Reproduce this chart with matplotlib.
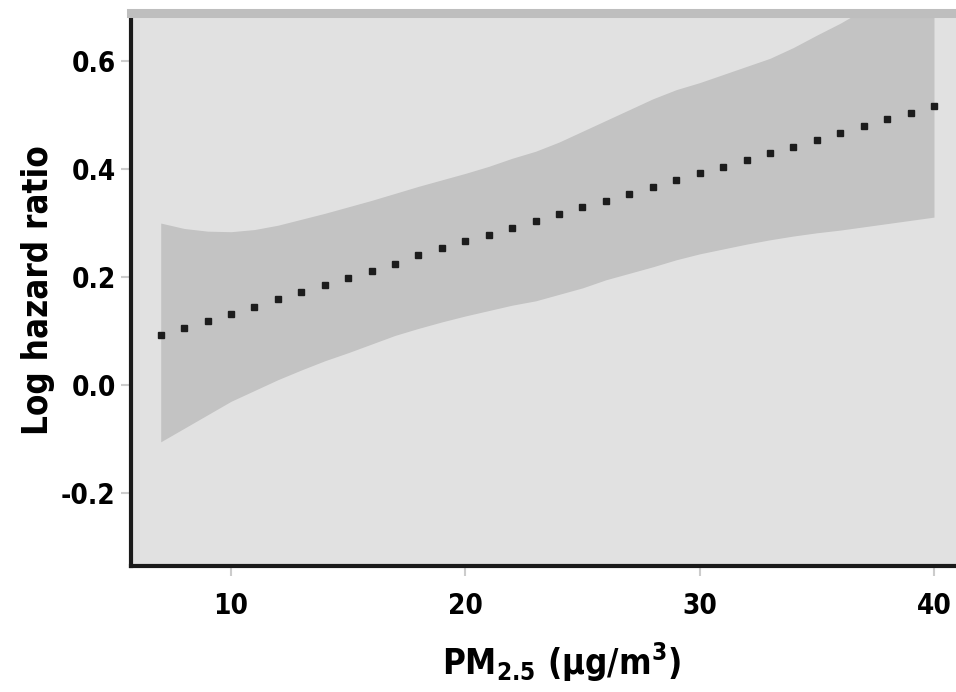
import matplotlib
matplotlib.use("Agg")
import matplotlib.pyplot as plt
from matplotlib import font_manager as fm

# ---- data ----
pm25 = list(range(7, 41))
log_hr = [0.093, 0.106, 0.119, 0.132, 0.145, 0.159, 0.172, 0.185, 0.198, 0.212,
          0.225, 0.240, 0.253, 0.266, 0.278, 0.291, 0.303, 0.316, 0.329, 0.341,
          0.354, 0.367, 0.379, 0.392, 0.404, 0.416, 0.429, 0.441, 0.454, 0.467,
          0.479, 0.492, 0.504, 0.516]
ci_lower = [-0.105, -0.080, -0.055, -0.030, -0.010, 0.010, 0.028, 0.045, 0.060, 0.076,
            0.092, 0.105, 0.117, 0.128, 0.138, 0.148, 0.156, 0.168, 0.180, 0.195,
            0.207, 0.219, 0.232, 0.243, 0.252, 0.261, 0.269, 0.276, 0.282, 0.287,
            0.293, 0.299, 0.305, 0.311]
ci_upper = [0.300, 0.290, 0.285, 0.284, 0.288, 0.296, 0.307, 0.318, 0.330, 0.342,
            0.355, 0.368, 0.380, 0.392, 0.405, 0.420, 0.433, 0.450, 0.470, 0.490,
            0.510, 0.530, 0.547, 0.560, 0.575, 0.590, 0.605, 0.625, 0.648, 0.670,
            0.695, 0.720, 0.745, 0.770]
x_ticks = [10, 20, 30, 40]
y_ticks = [-0.2, 0.0, 0.2, 0.4, 0.6]
y_tick_labels = ["-0.2", "0.0", "0.2", "0.4", "0.6"]
x_label = r"PM$_{2.5}$ (μg/m$^{3}$)"
y_label = "Log hazard ratio"

plt.rcParams["font.family"] = ["DejaVu Sans"]
plt.rcParams["font.stretch"] = "condensed"
plt.rcParams["font.weight"] = "bold"
plt.rcParams["axes.unicode_minus"] = False
plt.rcParams["mathtext.default"] = "regular"

fp = fm.FontProperties(family="DejaVu Sans", weight="bold", stretch="condensed")
condensed_ok = "Condensed" in fm.findfont(fp)

fig = plt.figure(figsize=(9.56, 6.92), dpi=100)
ax = fig.add_axes([0.137, 0.1828, 0.863, 0.7977])
ax.set_facecolor("#e1e1e1")

ax.fill_between(pm25, ci_lower, ci_upper, color="#c3c3c3", linewidth=0, zorder=1)
ax.plot(pm25, log_hr, linestyle="none", marker="s", markersize=3.8,
        color="#1c1c1c", zorder=3)

ax.set_xlim(5.73, 40.94)
ax.set_ylim(-0.334, 0.688)
ax.set_xticks(x_ticks)
ax.set_xticklabels([str(v) for v in x_ticks])
ax.set_yticks(y_ticks)
ax.set_yticklabels(y_tick_labels)

for side in ("left", "bottom"):
    ax.spines[side].set_color("#1a1a1a")
    ax.spines[side].set_linewidth(3.0)
ax.spines["top"].set_color("#bebebe")
ax.spines["top"].set_linewidth(6.5)
ax.spines["right"].set_visible(False)

tick_size = 20 if condensed_ok else 17
ax.tick_params(axis="both", which="major", length=7, width=1.5, color="#cccccc",
               labelsize=tick_size)
ax.tick_params(axis="y", pad=4)
ax.tick_params(axis="x", pad=12)

ax.set_xlabel(x_label, fontsize=25 if condensed_ok else 21, fontweight="bold")
ax.set_ylabel(y_label, fontsize=25 if condensed_ok else 21, fontweight="bold")
ax.xaxis.set_label_coords(0.522, -0.137)
ax.yaxis.set_label_coords(-0.092, 0.499)

fig.savefig("out.png", dpi=100)
